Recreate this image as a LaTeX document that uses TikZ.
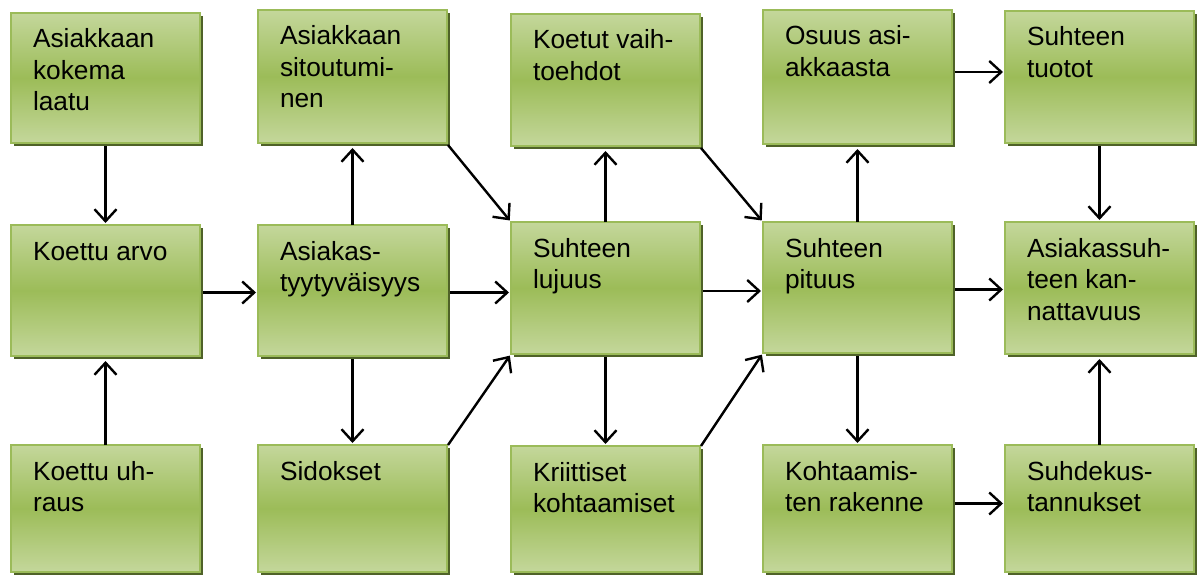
\documentclass[tikz,border=0pt]{standalone}
\usepackage{fontspec}
\setmainfont{Liberation Sans}
\usetikzlibrary{arrows.meta,shadows}
\definecolor{gtop}{RGB}{196,215,155}
\definecolor{gmid}{RGB}{156,188,88}
\definecolor{gline}{RGB}{155,187,89}
\definecolor{gshadow}{RGB}{79,98,40}
\newcommand\bt[2]{\begin{minipage}[t][#1pt][t]{189pt}\raggedright\leftskip=22pt\relax\noindent\rule{0pt}{35pt}#2\end{minipage}}
\tikzset{
  gbox/.style={draw=gline, line width=2pt, inner sep=0pt, outer sep=0pt, anchor=north west,
    top color=gtop, bottom color=gtop, middle color=gmid,
    font=\fontsize{26.3}{31.5}\selectfont,
    drop shadow={shadow xshift=3pt, shadow yshift=-3pt, fill=gshadow, opacity=1}},
  conn/.style={line width=2.4pt, -{Straight Barb[length=12pt,width=22pt,line width=2.4pt]}, shorten >=2pt}
}
\begin{document}
\begin{tikzpicture}[x=1pt,y=1pt]
\useasboundingbox (0,0) rectangle (1200,-575);
% row 1
\node[gbox] (a1) at (11,-13)   {\bt{130}{Asiakkaan\\kokema\\laatu}};
\node[gbox] (b1) at (258,-10)  {\bt{133}{Asiakkaan\\sitoutumi-\\nen}};
\node[gbox] (c1) at (511,-14)  {\bt{132}{Koetut vaih-\\toehdot}};
\node[gbox] (d1) at (763,-10)  {\bt{134}{Osuus asi-\\akkaasta}};
\node[gbox] (e1) at (1005,-11) {\bt{132}{Suhteen\\tuotot}};
% row 2
\node[gbox] (a2) at (11,-225)  {\bt{131}{Koettu arvo}};
\node[gbox] (b2) at (258,-225) {\bt{131}{Asiakas-\\tyytyväisyys}};
\node[gbox] (c2) at (511,-222) {\bt{132}{Suhteen\\lujuus}};
\node[gbox] (d2) at (763,-222) {\bt{131}{Suhteen\\pituus}};
\node[gbox] (e2) at (1005,-222){\bt{132}{Asiakassuh-\\teen kan-\\nattavuus}};
% row 3
\node[gbox] (a3) at (11,-445)  {\bt{127}{Koettu uh-\\raus}};
\node[gbox] (b3) at (258,-445) {\bt{127}{Sidokset}};
\node[gbox] (c3) at (511,-446) {\bt{126}{Kriittiset\\kohtaamiset}};
\node[gbox] (d3) at (763,-445) {\bt{127}{Kohtaamis-\\ten rakenne}};
\node[gbox] (e3) at (1005,-445){\bt{127}{Suhdekus-\\tannukset}};
% vertical connectors
\draw[conn] ([yshift=-3pt]a1.south) -- (a1.south |- a2.north);
\draw[conn] (a3.north) -- ([yshift=-3pt]a3.north |- a2.south);
\draw[conn] (b2.north) -- ([yshift=-3pt]b2.north |- b1.south);
\draw[conn] ([yshift=-3pt]b2.south) -- (b2.south |- b3.north);
\draw[conn] (c2.north) -- ([yshift=-3pt]c2.north |- c1.south);
\draw[conn] ([yshift=-3pt]c2.south) -- (c2.south |- c3.north);
\draw[conn] (d2.north) -- ([yshift=-3pt]d2.north |- d1.south);
\draw[conn] ([yshift=-3pt]d2.south) -- (d2.south |- d3.north);
\draw[conn] ([yshift=-3pt]e1.south) -- (e1.south |- e2.north);
\draw[conn] (e3.north) -- ([yshift=-3pt]e3.north |- e2.south);
% horizontal connectors
\draw[conn] ([xshift=3pt,yshift=-2pt]a2.east) -- ([yshift=-2pt]a2.east -| b2.west);
\draw[conn] ([xshift=3pt,yshift=-2pt]b2.east) -- ([yshift=-2pt]b2.east -| c2.west);
\draw[conn] ([xshift=3pt,yshift=-3pt]c2.east) -- ([yshift=-3pt]c2.east -| d2.west);
\draw[conn] ([xshift=3pt,yshift=-2pt]d2.east) -- ([yshift=-2pt]d2.east -| e2.west);
\draw[conn] ([xshift=3pt,yshift=5pt]d1.east) -- ([yshift=5pt]d1.east -| e1.west);
\draw[conn] ([xshift=3pt,yshift=5pt]d3.east) -- ([yshift=5pt]d3.east -| e3.west);
% diagonal connectors
\draw[conn] ([shift={(1pt,-2pt)}]b1.south east) -- (c2.north west);
\draw[conn] ([shift={(1pt,0pt)}]b3.north east) -- (c2.south west);
\draw[conn] ([shift={(1pt,-2pt)}]c1.south east) -- (d2.north west);
\draw[conn] ([shift={(1pt,0pt)}]c3.north east) -- (d2.south west);
\end{tikzpicture}
\end{document}
